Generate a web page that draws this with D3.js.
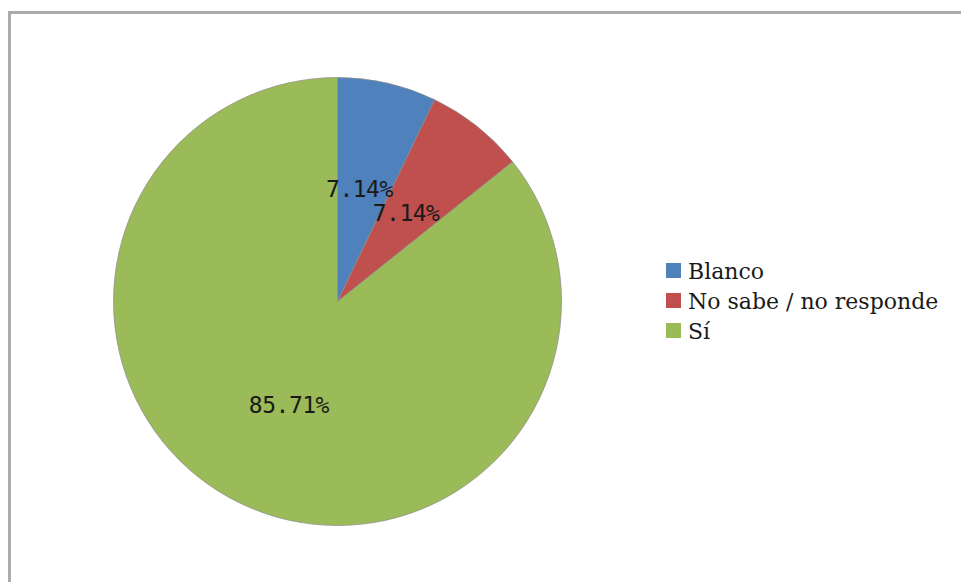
<!DOCTYPE html>
<meta charset="utf-8">
<style>
  body { margin: 0; background: #fff; }
</style>
<body>
<script src="https://d3js.org/d3.v7.min.js"></script>
<script>

var width = 961,
    height = 582;

// data
var categories = ["Blanco", "No sabe / no responde", "Sí"];
var values = [7.14, 7.14, 85.71];
var labels = ["7.14%", "7.14%", "85.71%"];
var colors = ["#4F81BD", "#C0504D", "#9BBB59"];

var svg = d3.select("body").append("svg")
    .attr("width", width)
    .attr("height", height);

// chart frame, runs off the right and bottom edge
svg.append("rect")
    .attr("x", 9.5)
    .attr("y", 12.5)
    .attr("width", 1000)
    .attr("height", 700)
    .attr("fill", "#fff")
    .attr("stroke", "#ababab")
    .attr("stroke-width", 3);

var cx = 337.5, cy = 301.5, r = 224;

var pie = d3.pie().sort(null).value(function(d) { return d; });
var arcs = pie(values);
var arc = d3.arc().innerRadius(0).outerRadius(r);

var g = svg.append("g").attr("transform", "translate(" + cx + "," + cy + ")");

g.selectAll("path")
  .data(arcs)
  .enter().append("path")
    .attr("d", arc)
    .attr("fill", function(d, i) { return colors[i]; })
    .attr("stroke", "#8a8a8a")
    .attr("stroke-width", 0.7);

// label spots: centroid at a fraction of the radius, nudged to match
var labelR = [0.52, 0.52, 0.5];
var nudge = [[-4, 1], [-4, 3], [0, 3]];

g.selectAll("text.lbl")
  .data(arcs)
  .enter().append("text")
    .attr("class", "lbl")
    .attr("transform", function(d, i) {
      var a = d3.arc().innerRadius(r * labelR[i]).outerRadius(r * labelR[i]);
      var c = a.centroid(d);
      return "translate(" + (c[0] + nudge[i][0]) + "," + (c[1] + nudge[i][1]) + ")";
    })
    .attr("text-anchor", "middle")
    .attr("dy", "0.35em")
    .style("font-family", "'DejaVu Sans Mono', monospace")
    .style("font-size", "23px")
    .style("fill", "#1a1a1a")
    .style("letter-spacing", "-0.5px")
    .text(function(d, i) { return labels[i]; });

// legend
var legend = svg.append("g").attr("transform", "translate(666,263)");
var rows = legend.selectAll("g")
  .data(categories)
  .enter().append("g")
    .attr("transform", function(d, i) { return "translate(0," + (i * 30) + ")"; });

rows.append("rect")
    .attr("width", 15)
    .attr("height", 15)
    .attr("fill", function(d, i) { return colors[i]; });

rows.append("text")
    .attr("x", 22)
    .attr("y", 8)
    .attr("dy", "0.35em")
    .style("font-family", "'DejaVu Serif', serif")
    .style("font-size", "22px")
    .style("fill", "#1a1a1a")
    .text(function(d) { return d; });

</script>
